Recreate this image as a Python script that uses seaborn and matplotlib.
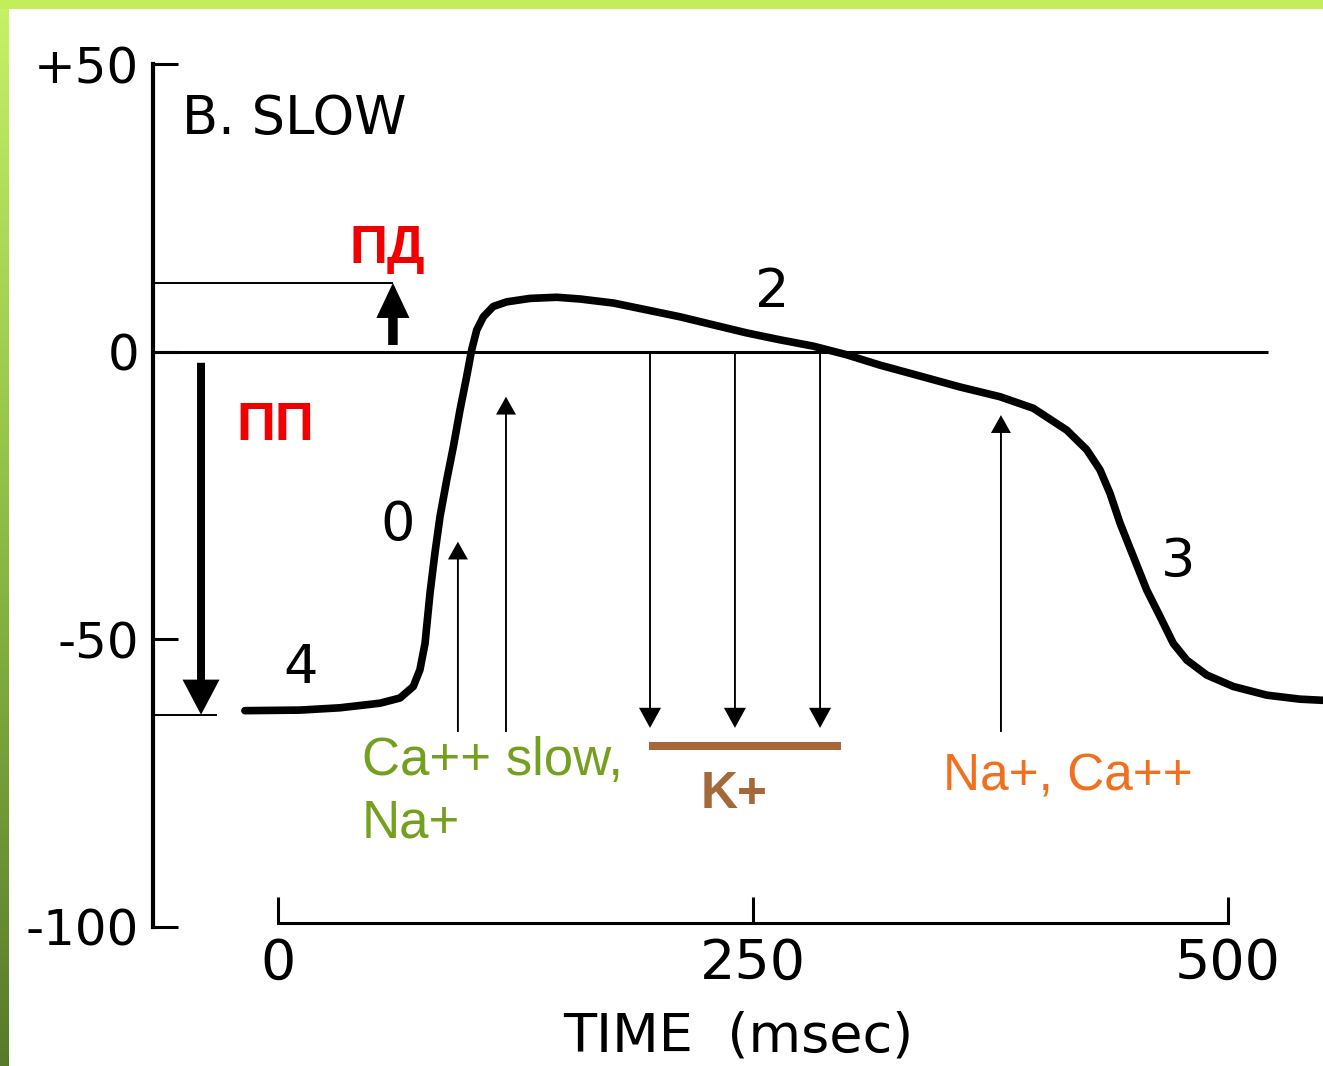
import numpy as np
import pandas as pd
import matplotlib
matplotlib.use("Agg")
import matplotlib.pyplot as plt
import seaborn as sns
from matplotlib.patches import Rectangle
from matplotlib.colors import LinearSegmentedColormap

# ---------------- data ----------------
time_ms = [-17.4, 11.6, 32.6, 45.8, 53.7, 64.2, 71.2, 74.7, 77.4, 80.0, 82.6,
           85.3, 88.8, 92.3, 95.8, 99.3, 101.9, 104.6, 108.1, 113.3, 120.4,
           132.6, 146.7, 158.9, 176.5, 194.1, 211.6, 229.1, 246.7, 264.2,
           281.7, 299.3, 316.8, 337.9, 358.9, 380.0, 397.5, 415.1, 425.6,
           432.6, 437.9, 443.2, 450.2, 457.2, 464.2, 471.2, 478.3, 488.8,
           502.8, 520.4, 537.9, 550.0]
voltage_mv = [-62.4, -62.3, -61.9, -61.4, -61.1, -60.2, -58.2, -55.3, -50.7,
              -42.0, -35.0, -28.6, -22.3, -16.5, -10.1, -4.3, 0.3, 3.8, 6.1,
              7.9, 8.7, 9.3, 9.5, 9.2, 8.5, 7.3, 6.1, 4.7, 3.3, 2.1, 1.0, -0.5,
              -2.3, -4.2, -6.1, -7.8, -9.8, -13.6, -17.0, -20.5, -24.6, -29.8,
              -35.6, -41.4, -46.0, -50.7, -53.6, -56.2, -58.2, -59.7, -60.4,
              -60.6]

v_ticks = [50, 0, -50, -100]
v_tick_labels = ["+50", "0", "-50", "-100"]
t_ticks = [0, 250, 500]
t_tick_labels = ["0", "250", "500"]

phase_labels = ["0", "2", "3", "4"]
phase_t = [63, 260, 474, 12]
phase_v = [-30.1, 10.4, -36.5, -55.0]

resting_mv = -63.1       # ПП level
overshoot_mv = 12.0      # ПД level
ca_na_arrows_t = [94.7, 120.0]
ca_na_arrows_top = [-33.0, -7.8]
k_arrows_t = [195.8, 240.5, 285.3]
na_ca_arrow_t = 380.5
na_ca_arrow_top = -11.0

# ---------------- figure ----------------
sns.set_theme(style="white")
plt.rcParams["font.family"] = ["DejaVu Sans"]

fig = plt.figure(figsize=(13.23, 10.66), dpi=100)
fig.patch.set_facecolor("white")
ax = fig.add_axes([0, 0, 1, 1])
ax.set_facecolor("white")

df = pd.DataFrame({"t": time_ms, "V": voltage_mv})
sns.lineplot(data=df, x="t", y="V", ax=ax, color="black", lw=5.5,
             sort=False, estimator=None, zorder=4)
for ln in ax.lines:
    ln.set_solid_joinstyle("round")
    ln.set_solid_capstyle("round")

ax.set_xlim(-146.3, 550)
ax.set_ylim(-124.2, 61.2)
ax.set_xlabel("")
ax.set_ylabel("")

spine_t = -65.8
for s in ["top", "right"]:
    ax.spines[s].set_visible(False)
ax.spines["left"].set_position(("data", spine_t))
ax.spines["left"].set_bounds(-100, 50)
ax.spines["left"].set_linewidth(3)
ax.spines["left"].set_color("black")
ax.spines["bottom"].set_position(("data", -99.3))
ax.spines["bottom"].set_bounds(0, 500)
ax.spines["bottom"].set_linewidth(2.2)
ax.spines["bottom"].set_color("black")

ax.set_yticks(v_ticks)
ax.set_yticklabels(v_tick_labels)
ax.set_xticks(t_ticks)
ax.set_xticklabels(t_tick_labels)
ax.tick_params(axis="y", direction="in", length=18, width=2.2, pad=10,
               labelsize=36, colors="black", left=True)
ax.tick_params(axis="x", direction="in", length=19, width=2.2, pad=10,
               labelsize=40, colors="black", bottom=True)
ax.grid(False)

# zero line
ax.hlines(0, spine_t, 521, color="black", lw=2.2, zorder=3)
# ПД / ПП guide lines
ax.hlines(overshoot_mv, spine_t, 60.5, color="black", lw=1.4, zorder=3)
ax.hlines(resting_mv, spine_t, -32.1, color="black", lw=1.4, zorder=3)

# thick arrows
ax.arrow(60.5, 1.2, 0, overshoot_mv - 1.2, width=5.0, head_width=17.4,
         head_length=6.1, length_includes_head=True, color="black", lw=0, zorder=5)
ax.arrow(-40.5, -1.9, 0, resting_mv - (-1.9), width=4.2, head_width=19.5,
         head_length=6.1, length_includes_head=True, color="black", lw=0, zorder=5)

# thin channel arrows
for t, top in zip(ca_na_arrows_t, ca_na_arrows_top):
    ax.arrow(t, -66.1, 0, top - (-66.1), width=1.0, head_width=10.5,
             head_length=3.1, length_includes_head=True, color="black", lw=0, zorder=5)
for t in k_arrows_t:
    ax.arrow(t, 0, 0, -65.4, width=1.0, head_width=11.6,
             head_length=3.5, length_includes_head=True, color="black", lw=0, zorder=5)
ax.arrow(na_ca_arrow_t, -66.1, 0, na_ca_arrow_top - (-66.1), width=1.0,
         head_width=10.5, head_length=3.1, length_includes_head=True,
         color="black", lw=0, zorder=5)

# K+ bar
ax.hlines(-68.5, 195.3, 296.3, color="#a4683a", lw=5.8, zorder=3)

# texts
ax.text(-50.5, 40.5, "B. SLOW", fontsize=38, ha="left", va="center", color="black")
for lab, t, v in zip(phase_labels, phase_t, phase_v):
    ax.text(t, v, lab, fontsize=39, ha="center", va="center", color="black")

red = "#f20000"
ax.text(57.4, 15.5, "ПД", fontsize=38, fontweight="bold", color=red,
        family="Liberation Sans", ha="center", va="baseline")
ax.text(-1.6, -15.3, "ПП", fontsize=39, fontweight="bold", color=red,
        family="Liberation Sans", ha="center", va="baseline")

green = "#74a020"
ax.text(44.2, -73.6, "Ca++ slow,", fontsize=38, color=green,
        family="Liberation Sans", ha="left", va="baseline")
ax.text(44.2, -84.5, "Na+", fontsize=38, color=green,
        family="Liberation Sans", ha="left", va="baseline")
ax.text(240, -79.3, "K+", fontsize=37, fontweight="bold", color="#a4683a",
        family="Liberation Sans", ha="center", va="baseline")
ax.text(350, -76.2, "Na+, Ca++", fontsize=37, color="#f07020",
        family="Liberation Sans", ha="left", va="baseline")

ax.text(242, -119, "TIME  (msec)", fontsize=39, ha="center", va="center", color="black")

# green frame
fig.add_artist(Rectangle((0, 1 - 9 / 1066), 1, 9 / 1066, transform=fig.transFigure,
                         facecolor="#c2ee5c", edgecolor="none", zorder=10))
gax = fig.add_axes([0, 0, 9 / 1323, 1])
cmap = LinearSegmentedColormap.from_list("frame", ["#c6f266", "#8cbc44", "#587a2a"])
grad = np.linspace(0, 1, 256).reshape(-1, 1)
gax.imshow(grad, aspect="auto", cmap=cmap, extent=[0, 1, 1, 0])
gax.axis("off")

fig.savefig("out.png", dpi=100)
